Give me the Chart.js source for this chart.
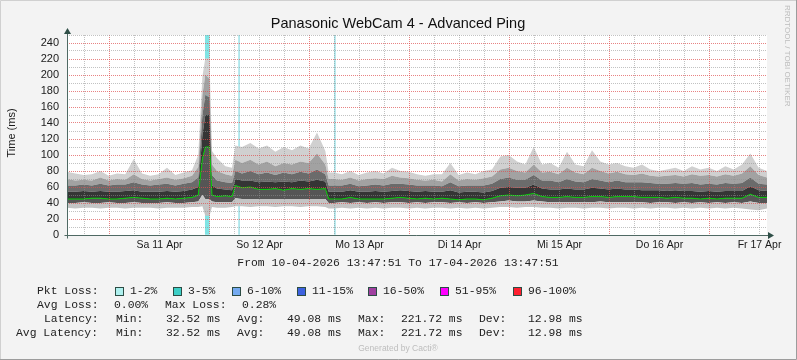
<!DOCTYPE html>
<html>
<head>
<meta charset="utf-8">
<title>Panasonic WebCam 4 - Advanced Ping</title>
<script src="https://cdn.jsdelivr.net/npm/chart.js@4.4.1/dist/chart.umd.min.js"></script>
<style>
  html, body { margin: 0; padding: 0; background: #f3f3f3; }
  canvas { display: block; }
</style>
</head>
<body>
<canvas id="pingChart" width="797" height="360"></canvas>
<script>
// hours since 10-04-2026 13:47:51
const hours = [0,2,4,6,8,10,12,14,16,18,20,22,24,26,28,30,
  31.5,32.5,33.2,34.2,34.8,36,38,39.6,
  40.4,42,44,46,48,50,52,54,56,58,60,62,62.8,
  64,66,68,70,72,74,76,78,80,82,84,86,88,90,92,94,96,98,100,102,104,106,108,110,
  112,114,116,118,120,122,124,126,128,130,132,134,136,138,140,142,144,146,148,150,
  152,154,156,158,160,162,164,166,168];

// smoke layers (ms), bottom to top
const pingMin = [34,33,34,34,33,34,34,33,34,34,34,33,34,34,34,35,
  35,36,24,24,35,34,34,35,
  36,36,35,36,36,35,36,36,35,36,36,35,33,
  33,34,33,34,33,34,33,34,34,33,34,33,34,34,33,34,33,34,33,34,35,35,34,35,35,34,34,33,34,34,
  33,34,34,33,34,34,33,34,33,34,34,33,34,33,34,33,34,33,34,33,32,31,33];
const pingLow = [40,40,41,40,40,41,40,40,41,40,40,40,41,40,40,41,
  42,50,45,45,42,41,41,41,
  46,45,45,45,45,45,45,45,45,45,45,45,40,
  40,41,40,41,40,41,40,41,41,40,41,40,41,41,40,41,40,41,40,41,42,43,42,42,43,42,41,41,41,41,
  41,41,42,41,41,41,41,41,40,41,41,40,41,40,41,40,41,40,41,40,42,40,40];
const pingMedian = [45,45,45,46,46,45,45,46,47,46,45,45,46,45,46,47,
  50,95,110,110,50,48,49,48,
  62,59,60,57,57,58,56,58,57,58,57,58,45,
  45,45,47,45,45,45,45,46,47,46,45,46,45,46,45,44,45,45,44,46,49,50,49,50,52,48,47,47,48,47,
  47,48,48,47,48,48,48,47,47,47,46,47,46,46,45,46,45,46,46,46,51,47,47];
const pingHigh1 = [54,54,55,54,55,54,54,55,56,54,54,54,55,54,55,57,
  60,125,150,150,62,58,57,56,
  70,68,68,66,67,66,67,66,68,67,69,67,54,
  54,54,56,54,54,55,54,55,56,55,54,55,54,54,56,53,54,54,53,55,59,60,59,59,63,58,57,57,58,57,
  57,59,58,57,58,57,57,56,56,56,55,56,55,55,54,55,54,55,55,55,61,56,55];
const pingHigh2 = [62,62,63,62,64,62,63,63,66,63,62,63,64,62,64,66,
  72,150,175,172,75,68,66,65,
  80,77,80,76,78,75,78,76,79,77,82,76,62,
  62,62,64,61,62,63,62,64,64,63,62,62,62,61,66,61,62,62,62,64,70,72,69,69,75,68,68,66,70,67,
  66,70,68,66,68,66,66,66,65,64,64,65,64,65,63,64,63,65,64,65,72,64,63];
const pingHigh3 = [70,68,69,68,72,68,70,69,76,70,68,70,72,69,71,74,
  85,175,200,195,88,80,76,74,
  94,90,94,88,92,86,90,88,92,90,102,88,70,
  70,69,72,68,70,71,70,74,72,71,69,68,69,67,76,68,70,69,71,73,82,84,80,78,88,78,79,76,84,78,
  76,84,80,77,79,76,75,77,74,73,74,75,73,76,74,75,73,76,74,77,86,75,72];
const pingMax = [79,77,75,76,80,74,77,76,95,77,74,76,84,75,78,81,
  100,198,221,221,105,96,86,84,
  112,110,115,108,112,104,110,106,112,108,128,105,78,
  78,76,80,75,78,80,77,84,80,79,76,74,76,76,90,75,78,76,80,82,98,100,92,88,110,88,90,84,104,88,
  86,106,92,88,90,86,84,88,82,80,82,84,80,86,82,84,80,86,82,88,102,84,80];

// packet loss events (hours)
const loss3to5 = [33.67];
const loss1to2 = [41.3, 64.3];

const yMax = 250;
const firstMidnight = 10.2025; // 11 Apr 00:00
const dayLabels = ['Sa 11 Apr', 'So 12 Apr', 'Mo 13 Apr', 'Di 14 Apr', 'Mi 15 Apr', 'Do 16 Apr', 'Fr 17 Apr'];

const lossLabels = ['1-2%', '3-5%', '6-10%', '11-15%', '16-50%', '51-95%', '96-100%'];
const statNames = ['Min:', 'Avg:', 'Max:', 'Dev:'];
const latency = [32.52, 49.08, 221.72, 12.98];
const avgLatency = [32.52, 49.08, 221.72, 12.98];
const avgLoss = 0.00;
const maxLoss = 0.28;

// styles
const lossColors = ['#aef0ee', '#3ccfc6', '#74aaf0', '#3d62e0', '#a040a0', '#ff00ff', '#ff2030'];
const majorGrid = 'rgba(222,79,79,0.7)';
const minorGrid = 'rgba(143,143,143,0.55)';
const mono = "11.4px 'Liberation Mono', monospace";

const gridHours = [];
for (let t = firstMidnight - 6; t <= 168; t += 6) gridHours.push(t);

function isMidnight(v) {
    const r = ((v - firstMidnight) % 24 + 24) % 24;
    return r < 1e-6 || r > 24 - 1e-6;
}

function labelFor(v) {
    const k = (v - firstMidnight - 12) / 24;
    const r = Math.round(k);
    if (Math.abs(k - r) < 1e-6 && r >= 0 && r < dayLabels.length) return dayLabels[r];
    return '';
}

const pts = arr => hours.map((h, i) => ({ x: h, y: arr[i] }));

function band(label, arr, color) {
    return {
        label: label, data: pts(arr), fill: '-1', backgroundColor: color,
        borderColor: 'rgba(0,0,0,0)', borderWidth: 0, pointRadius: 0, tension: 0
    };
}

// background, axes with arrows, title and the rrdtool style legend
const frame = {
    id: 'frame',
    beforeDraw(chart) {
        const { ctx, chartArea: a } = chart;
        ctx.save();
        ctx.fillStyle = '#f3f3f3';
        ctx.fillRect(0, 0, chart.width, chart.height);
        ctx.fillStyle = '#ffffff';
        ctx.fillRect(a.left, a.top, a.right - a.left, a.bottom - a.top);
        ctx.restore();
    },
    afterDraw(chart) {
        const { ctx, chartArea: a } = chart;
        ctx.save();

        // image border
        ctx.strokeStyle = '#d0d0d0';
        ctx.beginPath(); ctx.moveTo(0.5, 359); ctx.lineTo(0.5, 0.5); ctx.lineTo(797, 0.5); ctx.stroke();
        ctx.strokeStyle = '#9c9c9c';
        ctx.beginPath(); ctx.moveTo(796.5, 0); ctx.lineTo(796.5, 359.5); ctx.lineTo(0, 359.5); ctx.stroke();

        // axes
        const ax = Math.round(a.left) + 0.5, ay = Math.round(a.bottom) + 0.5;
        ctx.strokeStyle = '#4f6963';
        ctx.lineWidth = 1;
        ctx.beginPath();
        ctx.moveTo(ax - 3, ay); ctx.lineTo(a.right + 2, ay);
        ctx.moveTo(ax, ay + 3); ctx.lineTo(ax, a.top - 2);
        ctx.stroke();
        ctx.fillStyle = '#2f4f47';
        ctx.beginPath();
        ctx.moveTo(a.right + 7, ay); ctx.lineTo(a.right + 1, ay - 3.5); ctx.lineTo(a.right + 1, ay + 3.5);
        ctx.closePath(); ctx.fill();
        ctx.beginPath();
        ctx.moveTo(ax, a.top - 7); ctx.lineTo(ax - 3.5, a.top - 1); ctx.lineTo(ax + 3.5, a.top - 1);
        ctx.closePath(); ctx.fill();

        // title
        ctx.fillStyle = '#111';
        ctx.font = "14.5px 'Liberation Sans', Arial, sans-serif";
        ctx.textAlign = 'center';
        ctx.textBaseline = 'alphabetic';
        ctx.fillText('Panasonic WebCam 4 - Advanced Ping', 398, 28);

        // y axis title
        ctx.save();
        ctx.translate(15, 133);
        ctx.rotate(-Math.PI / 2);
        ctx.font = "11px 'Liberation Sans', Arial, sans-serif";
        ctx.fillStyle = '#1a1a1a';
        ctx.fillText('Time (ms)', 0, 0);
        ctx.restore();

        // watermark on the right
        ctx.save();
        ctx.translate(785, 5);
        ctx.rotate(Math.PI / 2);
        ctx.font = "8px 'Liberation Sans', Arial, sans-serif";
        ctx.fillStyle = '#bdbdbd';
        ctx.textAlign = 'left';
        ctx.fillText('RRDTOOL / TOBI OETIKER', 0, 0);
        ctx.restore();

        // legend
        ctx.font = mono;
        ctx.fillStyle = '#222';
        ctx.textAlign = 'center';
        ctx.fillText('From 10-04-2026 13:47:51 To 17-04-2026 13:47:51', 398, 266);

        ctx.textAlign = 'left';
        ctx.fillText('Pkt Loss:', 37, 294);
        const boxX = [115, 173, 232, 297, 368, 440, 513];
        lossLabels.forEach((lab, i) => {
            ctx.fillStyle = lossColors[i];
            ctx.fillRect(boxX[i], 287, 9, 9);
            ctx.strokeStyle = '#2c4c44';
            ctx.strokeRect(boxX[i] + 0.5, 287.5, 8, 8);
            ctx.fillStyle = '#222';
            ctx.fillText(lab, boxX[i] + 15, 294);
        });

        ctx.fillText('Avg Loss:', 37, 308);
        ctx.fillText(avgLoss.toFixed(2) + '%', 114, 308);
        ctx.fillText('Max Loss:', 165, 308);
        ctx.fillText(maxLoss.toFixed(2) + '%', 242, 308);

        const nameX = [116, 237, 358, 479];
        const valX = [166, 287, 401, 528];
        ctx.fillText('Latency:', 44, 322);
        ctx.fillText('Avg Latency:', 16, 336);
        statNames.forEach((n, i) => {
            ctx.fillText(n, nameX[i], 322);
            ctx.fillText(latency[i].toFixed(2) + ' ms', valX[i], 322);
            ctx.fillText(n, nameX[i], 336);
            ctx.fillText(avgLatency[i].toFixed(2) + ' ms', valX[i], 336);
        });

        ctx.font = "8.5px 'Liberation Sans', Arial, sans-serif";
        ctx.fillStyle = '#bdbdbd';
        ctx.textAlign = 'center';
        ctx.fillText('Generated by Cacti\u00AE', 398, 351);
        ctx.restore();
    }
};

Chart.defaults.font.family = "'Liberation Sans', Arial, sans-serif";

new Chart(document.getElementById('pingChart'), {
    type: 'line',
    data: {
        datasets: [
            { label: 'min', data: pts(pingMin), fill: false, borderColor: 'rgba(0,0,0,0)', borderWidth: 0, pointRadius: 0 },
            band('low', pingLow, '#c4c4c4'),
            band('median', pingMedian, '#555555'),
            band('high1', pingHigh1, '#353535'),
            band('high2', pingHigh2, '#6b6b6b'),
            band('high3', pingHigh3, '#a2a2a2'),
            band('max', pingMax, '#d0d0d0'),
            {
                label: 'Median', data: pts(pingMedian), fill: false, borderColor: '#00cc00',
                borderWidth: 1, pointRadius: 0, tension: 0, order: -1
            },
            {
                type: 'bar', label: '3-5%', data: loss3to5.map(t => ({ x: t, y: yMax })),
                backgroundColor: '#80e4e4', barThickness: 4, grouped: false, order: 10
            },
            {
                type: 'bar', label: '1-2%', data: loss1to2.map(t => ({ x: t, y: yMax })),
                backgroundColor: '#a6e4ea', barThickness: 1, grouped: false, order: 10
            }
        ]
    },
    options: {
        responsive: false,
        animation: false,
        layout: { padding: { left: 0, right: 30, top: 35, bottom: 100 } },
        plugins: { legend: { display: false }, tooltip: { enabled: false } },
        scales: {
            x: {
                type: 'linear', min: 0, max: 168, offset: false,
                afterBuildTicks: s => { s.ticks = gridHours.map(v => ({ value: v })); },
                afterFit: s => { s.height = 25; },
                ticks: {
                    autoSkip: false, maxRotation: 0, padding: 4, color: '#1a1a1a',
                    font: { size: 10.5 }, callback: v => labelFor(v)
                },
                grid: {
                    z: 1,
                    color: c => (c.tick && isMidnight(c.tick.value)) ? majorGrid : minorGrid,
                    drawTicks: false, offset: false
                },
                border: { display: false, dash: [1, 1] }
            },
            y: {
                min: 0, max: yMax,
                afterFit: s => { s.width = 67; },
                ticks: {
                    stepSize: 10, autoSkip: false, padding: 8, color: '#1a1a1a',
                    font: { size: 11 }, callback: v => (v % 20 === 0 ? v : '')
                },
                grid: {
                    z: 1,
                    color: c => (c.tick && c.tick.value % 20 === 0 && c.tick.value > 0) ? majorGrid : minorGrid,
                    drawTicks: false
                },
                border: { display: false, dash: [1, 1] }
            }
        }
    },
    plugins: [frame]
});
</script>
</body>
</html>
